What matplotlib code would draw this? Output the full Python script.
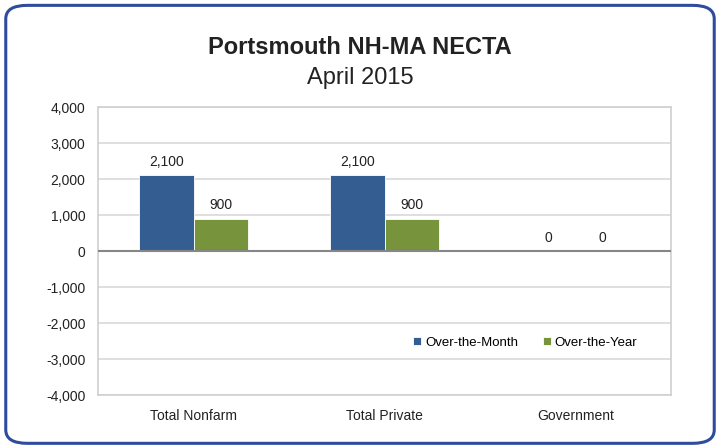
import matplotlib
matplotlib.use("Agg")
import matplotlib.pyplot as plt
from matplotlib.patches import FancyBboxPatch
import numpy as np

plt.rcParams['font.family'] = ['Liberation Sans', 'DejaVu Sans']

# Data
categories = ['Total Nonfarm', 'Total Private', 'Government']
over_month = [2100, 2100, 0]
over_year = [900, 900, 0]
series_names = ['Over-the-Month', 'Over-the-Year']
y_ticks = [-4000, -3000, -2000, -1000, 0, 1000, 2000, 3000, 4000]

blue = '#345E91'
green = '#77933C'

fig = plt.figure(figsize=(7.2, 4.46), dpi=100)

# rounded frame around the chart
frame = FancyBboxPatch((0.008, 0.006), 0.984, 0.982,
                       boxstyle="round,pad=0,rounding_size=0.03",
                       transform=fig.transFigure, fill=False,
                       edgecolor='#2F4B9C', linewidth=2.2)
fig.patches.append(frame)

ax = fig.add_axes([0.1361, 0.1143, 0.796, 0.6457])

x = np.arange(len(categories))
w = 0.285
b1 = ax.bar(x - w / 2, over_month, w, color=blue, label=series_names[0],
            edgecolor='white', linewidth=0.6, zorder=3)
b2 = ax.bar(x + w / 2, over_year, w, color=green, label=series_names[1],
            edgecolor='white', linewidth=0.6, zorder=3)

for bars, vals in ((b1, over_month), (b2, over_year)):
    for rect, v in zip(bars, vals):
        ax.text(rect.get_x() + rect.get_width() / 2, v + 180, f"{v:,}",
                ha='center', va='bottom', fontsize=10, color='#222222')

ax.set_xlim(-0.5, 2.5)
ax.set_ylim(-4000, 4000)
ax.set_yticks(y_ticks)
ax.set_yticklabels([f"{t:,}" for t in y_ticks], fontsize=10, color='#222222')
ax.set_xticks(x)
ax.set_xticklabels(categories, fontsize=10, color='#222222')
ax.tick_params(axis='both', length=0, pad=9)
ax.tick_params(axis='x', pad=10)

ax.grid(axis='y', color='#D9D9D9', linewidth=1.2, zorder=0)
ax.axhline(0, color='#868686', linewidth=1.5, zorder=4)
for s in ax.spines.values():
    s.set_color('#D0D0D0')
    s.set_linewidth(1.2)

leg = ax.legend(loc='center right', bbox_to_anchor=(0.962, 0.182), ncol=2,
                frameon=False, fontsize=9.5, handlelength=0.6, handleheight=0.6,
                handletextpad=0.3, columnspacing=1.9)

fig.text(0.5, 0.893, 'Portsmouth NH-MA NECTA', ha='center', va='center',
         fontsize=17, fontweight='bold', color='#222222')
fig.text(0.5, 0.825, 'April 2015', ha='center', va='center',
         fontsize=17, color='#222222')

fig.savefig('out.png', dpi=100)
